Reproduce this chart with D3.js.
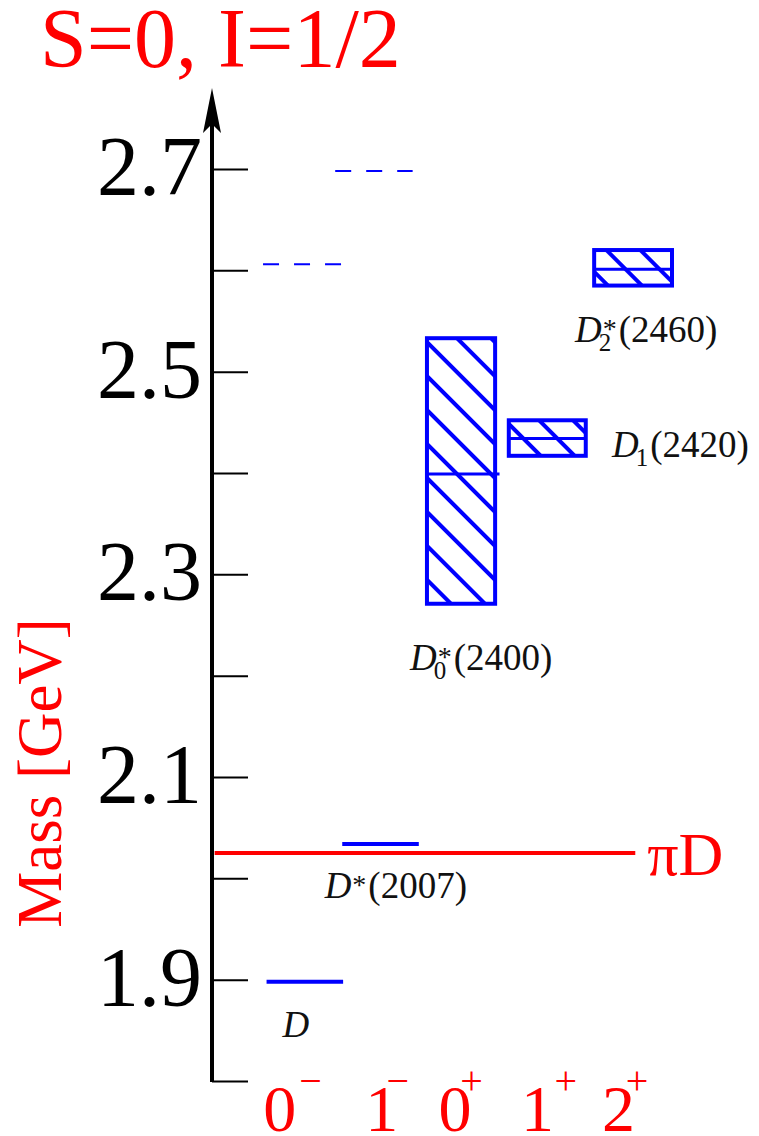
<!DOCTYPE html>
<html>
<head>
<meta charset="utf-8">
<script src="https://cdn.jsdelivr.net/npm/d3@7"></script>
<style>
  body { margin: 0; background: #fff; }
  svg { display: block; }
</style>
</head>
<body>
<div id="chart"></div>
<script>
// mass axis (GeV)
var massTicks = [1.8, 1.9, 2.0, 2.1, 2.2, 2.3, 2.4, 2.5, 2.6, 2.7];
var massLabels = [1.9, 2.1, 2.3, 2.5, 2.7];
var axisTop = 2.78;

// J^P columns (horizontal units, 1 unit ~ one column)
var jpBase = ["0", "1", "0", "1", "2"];
var jpSign = ["\u2212", "\u2212", "+", "+", "+"];
var jpBaseX = [0.77, 1.93, 2.76, 3.70, 4.62];
var jpSignX = [1.12, 2.11, 2.95, 4.02, 4.83];

// narrow states
var solidStates = [
    { name: "D", x0: 0.62, x1: 1.49, m: 1.898 },
    { name: "D*(2007)", x0: 1.48, x1: 2.35, m: 2.034 }
];
var dashedStates = [
    { x0: 0.58, x1: 1.47, m: 2.606 },
    { x0: 1.40, x1: 2.28, m: 2.698 }
];
// broad states: mass band and central value
var broadStates = [
    { name: "D0*(2400)", x0: 2.42, x1: 3.24, lo: 2.269, hi: 2.535, c: 2.399, over: 0.05 },
    { name: "D1(2420)",  x0: 3.35, x1: 4.27, lo: 2.415, hi: 2.454, c: 2.434, over: 0 },
    { name: "D2*(2460)", x0: 4.32, x1: 5.25, lo: 2.583, hi: 2.622, c: 2.601, over: 0 }
];
var threshold = { name: "\u03c0D", x0: 0.03, x1: 4.81, m: 2.025 };

// state labels: superscript, subscript, rest, anchor (x units, mass)
var stateLabels = [
    { sup: "",  sub: "",  rest: "",       x: 0.80, m: 1.843 },
    { sup: "*", sub: "",  rest: "(2007)", x: 1.28, m: 1.981 },
    { sup: "*", sub: "0", rest: "(2400)", x: 2.25, m: 2.206 },
    { sup: "",  sub: "1", rest: "(2420)", x: 4.545, m: 2.416 },
    { sup: "*", sub: "2", rest: "(2460)", x: 4.125, m: 2.529 }
];

var width = 759;
var height = 1136;
var blue = "#0000ff";
var red = "#ff0000";
var fontName = "Liberation Serif";

var svg = d3.select("#chart").append("svg")
    .attr("width", width)
    .attr("height", height)
    .attr("font-family", fontName);

var x = d3.scaleLinear().domain([0, 6]).range([212, 740]);
var y = d3.scaleLinear().domain([1.8, 2.7]).range([1081, 169]);

function serifText(sel) {
    return sel.attr("font-family", fontName).style("font-family", "'" + fontName + "'");
}

// hatch pattern
svg.append("defs").append("pattern")
    .attr("id", "hatch")
    .attr("patternUnits", "userSpaceOnUse")
    .attr("width", 24).attr("height", 24)
    .attr("patternTransform", "rotate(45)")
    .append("line")
    .attr("x1", 0).attr("x2", 24)
    .attr("y1", 12).attr("y2", 12)
    .attr("stroke", blue)
    .attr("stroke-width", 4);

// title
svg.append("text")
    .attr("x", 40).attr("y", 67)
    .call(serifText)
    .attr("font-size", 84)
    .attr("fill", red)
    .text("S=0, I=1/2");

// y label
svg.append("text")
    .attr("transform", "translate(61,773) rotate(-90)")
    .attr("text-anchor", "middle")
    .call(serifText)
    .attr("font-size", 63)
    .attr("fill", red)
    .text("Mass [GeV]");

// axis ticks
var axis = d3.axisRight(y)
    .tickValues(massTicks)
    .tickSize(36)
    .tickFormat("");
var gAxis = svg.append("g")
    .attr("transform", "translate(" + x(0) + ",0)")
    .call(axis);
gAxis.select(".domain").remove();
gAxis.selectAll(".tick line").attr("stroke", "#000").attr("stroke-width", 2);

// axis line with arrow
svg.append("line")
    .attr("x1", x(0)).attr("x2", x(0))
    .attr("y1", y(1.8) + 1).attr("y2", y(axisTop) + 30)
    .attr("stroke", "#000").attr("stroke-width", 4);
var tipY = y(axisTop);
svg.append("path")
    .attr("d", "M" + x(0) + "," + tipY +
        " L" + (x(0) + 9) + "," + (tipY + 45) +
        " L" + x(0) + "," + (tipY + 36) +
        " L" + (x(0) - 9) + "," + (tipY + 45) + "Z")
    .attr("fill", "#000");

// tick labels
svg.selectAll(".mlab")
    .data(massLabels)
    .enter().append("text")
    .attr("class", "mlab")
    .attr("x", 202)
    .attr("y", function (d) { return y(d) + 26; })
    .attr("text-anchor", "end")
    .call(serifText)
    .attr("font-size", 84)
    .text(function (d) { return d.toFixed(1); });

// threshold
svg.append("line")
    .attr("x1", x(threshold.x0)).attr("x2", x(threshold.x1))
    .attr("y1", y(threshold.m)).attr("y2", y(threshold.m))
    .attr("stroke", red).attr("stroke-width", 4);
svg.append("text")
    .attr("x", x(threshold.x1) + 12)
    .attr("y", y(threshold.m) + 22)
    .call(serifText)
    .attr("font-size", 62)
    .attr("fill", red)
    .text(threshold.name);

// narrow states
svg.selectAll(".solid")
    .data(solidStates)
    .enter().append("line")
    .attr("x1", function (d) { return x(d.x0); })
    .attr("x2", function (d) { return x(d.x1); })
    .attr("y1", function (d) { return y(d.m); })
    .attr("y2", function (d) { return y(d.m); })
    .attr("stroke", blue).attr("stroke-width", 4);

svg.selectAll(".dashed")
    .data(dashedStates)
    .enter().append("line")
    .attr("x1", function (d) { return x(d.x0); })
    .attr("x2", function (d) { return x(d.x1); })
    .attr("y1", function (d) { return y(d.m); })
    .attr("y2", function (d) { return y(d.m); })
    .attr("stroke", blue).attr("stroke-width", 2)
    .attr("stroke-dasharray", "16,15");

// broad states
var boxes = svg.selectAll(".box")
    .data(broadStates)
    .enter().append("g");
boxes.append("rect")
    .attr("x", function (d) { return x(d.x0) + 2; })
    .attr("y", function (d) { return y(d.hi) + 2; })
    .attr("width", function (d) { return x(d.x1) - x(d.x0) - 4; })
    .attr("height", function (d) { return y(d.lo) - y(d.hi) - 4; })
    .attr("fill", "url(#hatch)")
    .attr("stroke", blue).attr("stroke-width", 4);
boxes.append("line")
    .attr("x1", function (d) { return x(d.x0) + 2; })
    .attr("x2", function (d) { return x(d.x1 + d.over) - 2; })
    .attr("y1", function (d) { return y(d.c); })
    .attr("y2", function (d) { return y(d.c); })
    .attr("stroke", blue).attr("stroke-width", 3);

// state labels (italic D with stacked super/subscript)
stateLabels.forEach(function (L) {
    var t = svg.append("text")
        .attr("x", x(L.x)).attr("y", y(L.m))
        .call(serifText)
        .attr("font-size", 37)
        .attr("fill", "#111");
    t.append("tspan").attr("font-style", "italic").text("D");
    var back = 0, after = 0;
    if (L.sup) {
        t.append("tspan").attr("font-size", 28).attr("dx", 1).attr("dy", -4).text(L.sup);
        back = 15; after = 15;
    }
    if (L.sub) {
        t.append("tspan").attr("font-size", 25)
            .attr("dx", -back - 3)
            .attr("dy", L.sup ? 13 : 9)
            .text(L.sub);
        after = Math.max(after, 9.5);
        back = -9.5;
    }
    if (L.rest) {
        var shift = L.sub ? 9 : (L.sup ? 4 : 0);
        t.append("tspan")
            .attr("dx", L.sub ? after + 2 - 9.5 : 2)
            .attr("dy", L.sub ? -9 : (L.sup ? 4 : 0))
            .text(L.rest);
    }
});

// J^P labels
var y0 = y(1.8);
svg.selectAll(".jp")
    .data(jpBase)
    .enter().append("text")
    .attr("x", function (d, i) { return x(jpBaseX[i]); })
    .attr("y", y0 + 50)
    .attr("text-anchor", "middle")
    .call(serifText)
    .attr("font-size", 66)
    .attr("fill", red)
    .text(function (d) { return d; });
svg.selectAll(".jps")
    .data(jpSign)
    .enter().append("text")
    .attr("x", function (d, i) { return x(jpSignX[i]); })
    .attr("y", y0 + 13)
    .attr("text-anchor", "middle")
    .call(serifText)
    .attr("font-size", 40)
    .attr("fill", red)
    .text(function (d) { return d; });
</script>
</body>
</html>
